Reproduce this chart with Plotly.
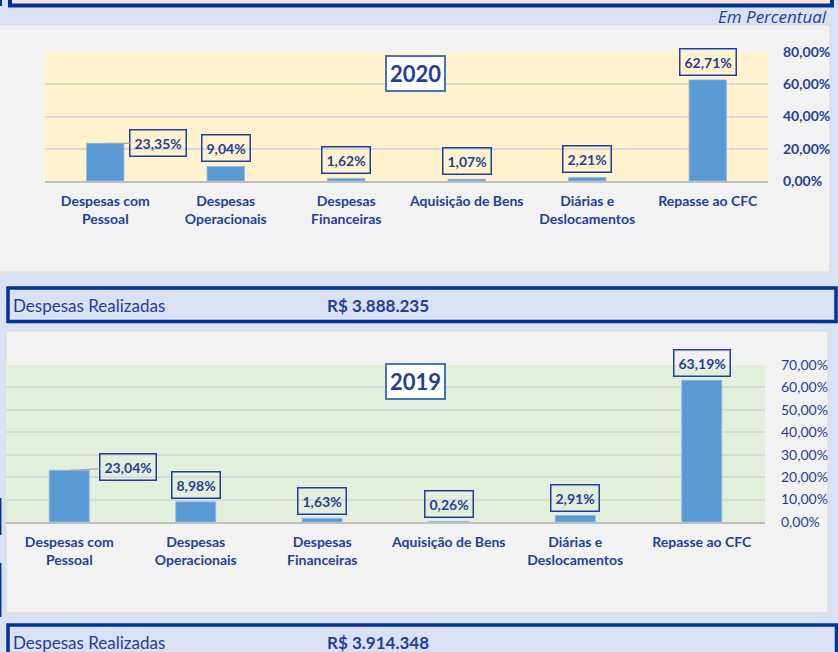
import plotly.graph_objects as go

W, H = 838, 652

categories = ["Despesas com<br>Pessoal", "Despesas<br>Operacionais", "Despesas<br>Financeiras",
              "Aquisição de Bens", "Diárias e<br>Deslocamentos", "Repasse ao CFC"]
values_2020 = [23.35, 9.04, 1.62, 1.07, 2.21, 62.71]
values_2019 = [23.04, 8.98, 1.63, 0.26, 2.91, 63.19]
total_2020 = "R$ 3.888.235"
total_2019 = "R$ 3.914.348"
ticks_2020 = [0, 20, 40, 60, 80]
ticklabels_2020 = ["0,00%", "20,00%", "40,00%", "60,00%", "80,00%"]
ticks_2019 = [0, 10, 20, 30, 40, 50, 60, 70]
ticklabels_2019 = ["0,00%", "10,00%", "20,00%", "30,00%", "40,00%", "50,00%", "60,00%", "70,00%"]

NAVY = "#003399"
TXT = "#1f3f9b"
BAR = "#5b9bd5"
FONT = "Lato"


def px(x):
    return x / W


def py(y):
    return 1 - y / H


fig = go.Figure()
fig.add_trace(go.Bar(x=categories, y=values_2020, width=0.31, marker=dict(color=BAR, line=dict(color="#8fb8e3", width=0.8)),
                     xaxis="x", yaxis="y", showlegend=False, hoverinfo="skip"))
fig.add_trace(go.Bar(x=categories, y=values_2019, width=0.316, marker=dict(color=BAR, line=dict(color="#8fb8e3", width=0.8)),
                     xaxis="x2", yaxis="y2", showlegend=False, hoverinfo="skip"))

shapes = []
# top box (cut off)
shapes.append(dict(type="rect", xref="paper", yref="paper", x0=px(10), x1=px(832), y0=py(5.5), y1=py(-10),
                   fillcolor="#fce4d6", line=dict(color=NAVY, width=4), layer="below"))
shapes.append(dict(type="rect", xref="paper", yref="paper", x0=px(-2), x1=px(2), y0=py(6), y1=py(-2),
                   fillcolor=NAVY, line=dict(width=0), layer="below"))
# gray panels
shapes.append(dict(type="rect", xref="paper", yref="paper", x0=px(-2), x1=px(830), y0=py(272), y1=py(25),
                   fillcolor="#f2f2f2", line=dict(color="#d9d9d9", width=1), layer="below"))
shapes.append(dict(type="rect", xref="paper", yref="paper", x0=px(6), x1=px(828), y0=py(613), y1=py(331),
                   fillcolor="#f2f2f2", line=dict(color="#d9d9d9", width=1), layer="below"))
# plot area backgrounds
shapes.append(dict(type="rect", xref="x domain", yref="y domain", x0=0, x1=1, y0=0, y1=1,
                   fillcolor="#fff2cc", line=dict(width=0), layer="below"))
shapes.append(dict(type="rect", xref="x2 domain", yref="y2 domain", x0=0, x1=1, y0=0, y1=1,
                   fillcolor="#e2efda", line=dict(width=0), layer="below"))
# summary boxes
shapes.append(dict(type="rect", xref="paper", yref="paper", x0=px(8), x1=px(836), y0=py(321.5), y1=py(288),
                   fillcolor="rgba(0,0,0,0)", line=dict(color=NAVY, width=3.5)))
shapes.append(dict(type="rect", xref="paper", yref="paper", x0=px(8), x1=px(836.5), y0=py(665), y1=py(625),
                   fillcolor="rgba(0,0,0,0)", line=dict(color=NAVY, width=3.5)))
# small left marks
for a, b in [(498, 535), (563, 617)]:
    shapes.append(dict(type="line", xref="paper", yref="paper", x0=px(0.7), x1=px(0.7), y0=py(b), y1=py(a),
                       line=dict(color=NAVY, width=1.5)))

annotations = []
annotations.append(dict(text="<i>Em Percentual</i>", xref="paper", yref="paper", x=px(829), y=py(16.5),
                        xanchor="right", yanchor="middle", showarrow=False,
                        font=dict(family="Open Sans", size=17, color=TXT)))
for yc, yr in [(73, "2020"), (381.5, "2019")]:
    annotations.append(dict(text="<b>%s</b>" % yr, xref="paper", yref="paper", x=px(415.5), y=py(yc),
                            xanchor="center", yanchor="middle", showarrow=False, bgcolor="white",
                            bordercolor="#4472c4", borderwidth=2, borderpad=3,
                            font=dict(family=FONT, size=22, color=TXT)))
for yc, total in [(305, total_2020), (642, total_2019)]:
    annotations.append(dict(text="Despesas Realizadas", xref="paper", yref="paper", x=px(11), y=py(yc),
                            xanchor="left", yanchor="middle", showarrow=False,
                            font=dict(family=FONT, size=17, color=TXT)))
    annotations.append(dict(text="<b>%s</b>" % total, xref="paper", yref="paper", x=px(325), y=py(yc),
                            xanchor="left", yanchor="middle", showarrow=False,
                            font=dict(family=FONT, size=17, color=TXT)))


def fmt(v):
    return ("%.2f" % v).replace(".", ",") + "%"


def add_labels(vals, xa, ya, first_shift, yshift):
    for i, (c, v) in enumerate(zip(categories, vals)):
        base = dict(text="<b>%s</b>" % fmt(v), xref=xa, yref=ya, x=c, y=v,
                    bordercolor="#1f3f9b", borderwidth=1.5, borderpad=4,
                    font=dict(family=FONT, size=14, color=TXT))
        if i == 0:
            base.update(showarrow=True, arrowhead=0, arrowcolor="#a6a6a6", arrowwidth=1.2,
                        ax=first_shift[0], ay=-first_shift[1], axref="pixel", ayref="pixel")
        else:
            base.update(showarrow=False, xanchor="center", yanchor="middle", yshift=yshift)
        annotations.append(base)


add_labels(values_2020, "x", "y", (53, 0), 18)
add_labels(values_2019, "x2", "y2", (59, 3), 17)

xcommon = dict(type="category", showgrid=False, showline=True, linecolor="#bfbfbf", linewidth=2,
               ticks="", tickfont=dict(family=FONT, size=14, color=TXT, weight="bold"),
               ticklabelstandoff=6, fixedrange=True, range=[-0.5, 5.5], automargin=False)
ycommon = dict(side="right", showgrid=True, gridcolor="#d9d9d9", gridwidth=1.5, zeroline=False,
               showline=False, ticks="", fixedrange=True, automargin=False)

fig.update_layout(
    width=W, height=H, margin=dict(l=0, r=0, t=0, b=0, pad=0, autoexpand=False),
    paper_bgcolor="#d9e1f2", plot_bgcolor="rgba(0,0,0,0)",
    bargap=0.5,
    xaxis=dict(domain=[px(45), px(768)], anchor="y", **xcommon),
    yaxis=dict(domain=[py(181), py(52)], anchor="x", range=[0, 80], tickvals=ticks_2020, ticktext=ticklabels_2020,
               tickfont=dict(family=FONT, size=14, color=TXT, weight="bold"), ticklabelstandoff=14, **ycommon),
    xaxis2=dict(domain=[px(6), px(765)], anchor="y2", **xcommon),
    yaxis2=dict(domain=[py(522), py(365)], anchor="x2", range=[0, 70], tickvals=ticks_2019, ticktext=ticklabels_2019,
                tickfont=dict(family=FONT, size=14, color=TXT), ticklabelstandoff=15, **ycommon),
    shapes=shapes, annotations=annotations,
)

fig.write_html("out.html", config={"displayModeBar": False},
               post_script="document.body.style.margin='0';document.body.style.padding='0';"
                           "document.body.style.overflow='hidden';")
